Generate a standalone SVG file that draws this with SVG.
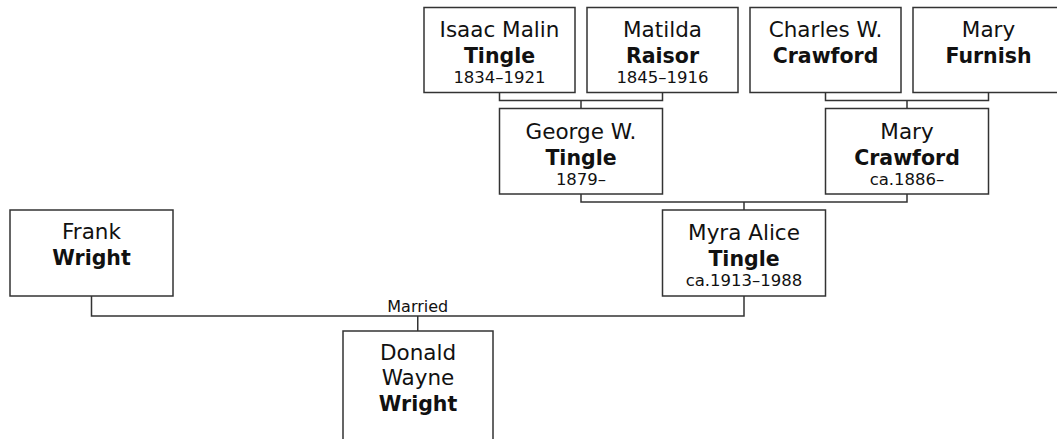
<svg xmlns="http://www.w3.org/2000/svg" width="1057" height="439" viewBox="0 0 1057 439">
<style>
.box{fill:#fff;stroke:#333;stroke-width:1.5}
.ln{fill:none;stroke:#333;stroke-width:1.5}
text{font-family:"DejaVu Sans","Liberation Sans",sans-serif;fill:#111;text-anchor:middle}
.r{font-size:21.5px}
.b{font-size:20.5px;font-weight:bold}
.d{font-size:16.5px}
.m{font-size:16px}
</style>
<rect width="1057" height="439" fill="#fff"/>
<g id="connectors">
<path class="ln" d="M499.5,92.5V100.5H662.5V92.5M581,100.5V108.5"/>
<path class="ln" d="M825.5,92.5V100.5H988.5V92.5M907,100.5V108.5"/>
<path class="ln" d="M581,194V202H907V194M744,202V210"/>
<path class="ln" d="M91.5,296V316H744V296M417.75,316V331"/>
<text class="m" x="417.75" y="311.5">Married</text>
</g>
<g id="isaac">
<rect class="box" x="424" y="7.5" width="151" height="85"/>
<text class="r" x="499.5" y="36.5">Isaac Malin</text>
<text class="b" x="499.5" y="63">Tingle</text>
<text class="d" x="499.5" y="83">1834–1921</text>
</g>
<g id="matilda">
<rect class="box" x="587" y="7.5" width="151" height="85"/>
<text class="r" x="662.5" y="36.5">Matilda</text>
<text class="b" x="662.5" y="63">Raisor</text>
<text class="d" x="662.5" y="83">1845–1916</text>
</g>
<g id="charles">
<rect class="box" x="750" y="7.5" width="151" height="85"/>
<text class="r" x="825.5" y="36.5">Charles W.</text>
<text class="b" x="825.5" y="63">Crawford</text>
</g>
<g id="furnish">
<rect class="box" x="913" y="7.5" width="151" height="85"/>
<text class="r" x="988.5" y="36.5">Mary</text>
<text class="b" x="988.5" y="63">Furnish</text>
</g>
<g id="george">
<rect class="box" x="499.5" y="108.5" width="163" height="85.5"/>
<text class="r" x="581" y="138.5">George W.</text>
<text class="b" x="581" y="165">Tingle</text>
<text class="d" x="581" y="185">1879–</text>
</g>
<g id="marycrawford">
<rect class="box" x="825.5" y="108.5" width="163" height="85.5"/>
<text class="r" x="907" y="138.5">Mary</text>
<text class="b" x="907" y="165">Crawford</text>
<text class="d" x="907" y="185">ca.1886–</text>
</g>
<g id="myra">
<rect class="box" x="662.5" y="210" width="163" height="86"/>
<text class="r" x="744" y="239.5">Myra Alice</text>
<text class="b" x="744" y="265.5">Tingle</text>
<text class="d" x="744" y="285.5">ca.1913–1988</text>
</g>
<g id="frank">
<rect class="box" x="10" y="210" width="163" height="86"/>
<text class="r" x="91.5" y="239">Frank</text>
<text class="b" x="91.5" y="265">Wright</text>
</g>
<g id="donald">
<rect class="box" x="343" y="331" width="150" height="115"/>
<text class="r" x="418" y="360">Donald</text>
<text class="r" x="418" y="385">Wayne</text>
<text class="b" x="418" y="411">Wright</text>
</g>
</svg>
